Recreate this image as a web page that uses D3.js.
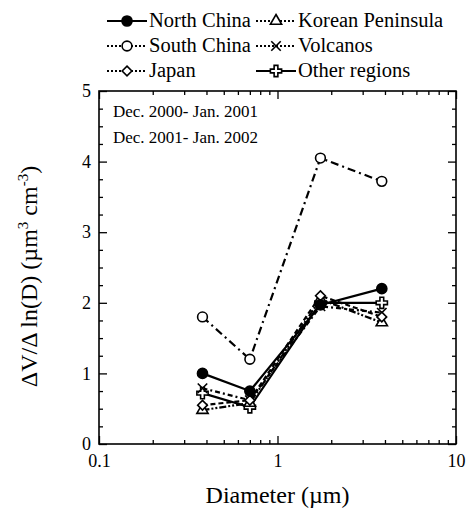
<!DOCTYPE html>
<html>
<head>
<meta charset="utf-8">
<script src="https://cdn.jsdelivr.net/npm/d3@7"></script>
<style>
  body { margin: 0; background: #fff; }
</style>
</head>
<body>
<div id="chart"></div>
<script>
// diameters (µm) of the four size bins
const diameters = [0.38, 0.70, 1.74, 3.84];

const northChina = [1.00, 0.75, 1.97, 2.20];
const southChina = [1.80, 1.20, 4.05, 3.72];
const japan = [0.55, 0.62, 2.10, 1.80];
const korea = [0.48, 0.58, 2.05, 1.72];
const volcanos = [0.79, 0.62, 1.95, 1.86];
const otherRegions = [0.72, 0.52, 2.00, 2.00];

const seriesNames = ["North China", "South China", "Japan", "Korean Peninsula", "Volcanos", "Other regions"];
const xTickLabels = ["0.1", "1", "10"];
const yTicks = [0, 1, 2, 3, 4, 5];
const periods = ["Dec. 2000- Jan. 2001", "Dec. 2001- Jan. 2002"];

const FONT = "Liberation Serif, Times New Roman, serif";

const width = 467, height = 510;
const margin = {top: 91, right: 11, bottom: 66, left: 99};

const svg = d3.select("#chart").append("svg")
  .attr("width", width)
  .attr("height", height)
  .attr("font-family", FONT);

const x = d3.scaleLog().domain([0.1, 10]).range([margin.left, width - margin.right]);
const y = d3.scaleLinear().domain([0, 5]).range([height - margin.bottom, margin.top]);

const x0 = x.range()[0], x1 = x.range()[1];
const y0 = y.range()[0], y1 = y.range()[1];

// ---- axes (ticks inward on all four sides)
const xMajor = [0.1, 1, 10];
const xMinor = [];
[0.1, 1].forEach(d => { for (let k = 2; k <= 9; k++) xMinor.push(d * k); });
const yMinor = d3.range(0, 5.01, 0.25).filter(v => Math.abs(v - Math.round(v)) > 0.01);

function styleAxis(g) {
  g.attr("font-family", FONT);
  g.select(".domain").remove();
  g.selectAll("line").attr("stroke", "#000").attr("stroke-width", 1.3);
  g.selectAll("text").attr("font-size", 18).attr("fill", "#000").attr("font-family", FONT);
}

svg.append("g").attr("transform", `translate(0,${y0})`)
  .call(d3.axisBottom(x).tickValues(xMajor).tickSize(-8).tickFormat((d, i) => xTickLabels[i]).tickPadding(10))
  .call(styleAxis);
svg.append("g").attr("transform", `translate(0,${y0})`)
  .call(d3.axisBottom(x).tickValues(xMinor).tickSize(-4).tickFormat(""))
  .call(styleAxis);
svg.append("g").attr("transform", `translate(0,${y1})`)
  .call(d3.axisTop(x).tickValues(xMajor).tickSize(-8).tickFormat(""))
  .call(styleAxis);
svg.append("g").attr("transform", `translate(0,${y1})`)
  .call(d3.axisTop(x).tickValues(xMinor).tickSize(-4).tickFormat(""))
  .call(styleAxis);

svg.append("g").attr("transform", `translate(${x0},0)`)
  .call(d3.axisLeft(y).tickValues(yTicks).tickSize(-8).tickFormat(d3.format("d")).tickPadding(8))
  .call(styleAxis);
svg.append("g").attr("transform", `translate(${x0},0)`)
  .call(d3.axisLeft(y).tickValues(yMinor).tickSize(-4).tickFormat(""))
  .call(styleAxis);
svg.append("g").attr("transform", `translate(${x1},0)`)
  .call(d3.axisRight(y).tickValues(yTicks).tickSize(-8).tickFormat(""))
  .call(styleAxis);
svg.append("g").attr("transform", `translate(${x1},0)`)
  .call(d3.axisRight(y).tickValues(yMinor).tickSize(-4).tickFormat(""))
  .call(styleAxis);

svg.append("rect")
  .attr("x", x0).attr("y", y1)
  .attr("width", x1 - x0).attr("height", y0 - y1)
  .attr("fill", "none").attr("stroke", "#000").attr("stroke-width", 1.6);

// axis titles
svg.append("text")
  .attr("x", (x0 + x1) / 2).attr("y", 503)
  .attr("text-anchor", "middle").attr("font-size", 24)
  .attr("font-family", FONT)
  .text("Diameter (µm)");

const yTitle = svg.append("text")
  .attr("transform", `translate(37,${(y0 + y1) / 2 + 9}) rotate(-90)`)
  .attr("text-anchor", "middle").attr("font-size", 24)
  .attr("font-family", FONT);
yTitle.append("tspan").text("ΔV/Δ ln(D) (µm");
yTitle.append("tspan").attr("dy", -9).attr("font-size", 15).text("3");
yTitle.append("tspan").attr("dy", 9).text(" cm");
yTitle.append("tspan").attr("dy", -9).attr("font-size", 15).text("-3");
yTitle.append("tspan").attr("dy", 9).text(")");

// period annotation
svg.selectAll(".period").data(periods).join("text")
  .attr("class", "period")
  .attr("x", 113).attr("y", (d, i) => 117 + i * 26)
  .attr("font-size", 17)
  .attr("font-family", FONT)
  .text(d => d);

// ---- series
const series = [
  {name: seriesNames[0], values: northChina, dash: null, symbol: d3.symbolCircle, fill: "#000", size: 80},
  {name: seriesNames[1], values: southChina, dash: "8,4,2,4", symbol: d3.symbolCircle, fill: "#fff", size: 75},
  {name: seriesNames[2], values: japan, dash: "5,3", symbol: d3.symbolDiamond2, fill: "#fff", size: 60},
  {name: seriesNames[3], values: korea, dash: "7,2,2,2,2,2", symbol: d3.symbolTriangle, fill: "#fff", size: 55},
  {name: seriesNames[4], values: volcanos, dash: "5,3,2,3", symbol: d3.symbolTimes, fill: "none", size: 60},
  {name: seriesNames[5], values: otherRegions, dash: null, symbol: d3.symbolCross, fill: "#fff", size: 70}
];

const line = d3.line()
  .x((d, i) => x(diameters[i]))
  .y(d => y(d));

const plot = svg.append("g");

// lines first, markers on top
[...series].reverse().forEach(s => {
  plot.append("path")
    .datum(s.values)
    .attr("d", line)
    .attr("fill", "none")
    .attr("stroke", "#000")
    .attr("stroke-width", 2.2)
    .attr("stroke-dasharray", s.dash);
});

[...series].reverse().forEach(s => {
  plot.selectAll(null).data(s.values).join("path")
    .attr("transform", (d, i) => `translate(${x(diameters[i])},${y(d)})`)
    .attr("d", d3.symbol().type(s.symbol).size(s.size))
    .attr("fill", s.fill)
    .attr("stroke", "#000")
    .attr("stroke-width", 1.6);
});

// ---- legend (two columns, three rows)
const legendPos = [
  {x: 107, y: 27}, {x: 107, y: 52}, {x: 107, y: 77},
  {x: 256, y: 27}, {x: 256, y: 52}, {x: 256, y: 77}
];

const legend = svg.append("g");
series.forEach((s, k) => {
  const p = legendPos[k];
  const g = legend.append("g").attr("transform", `translate(${p.x},${p.y - 6})`);
  g.append("line")
    .attr("x1", 0).attr("x2", 40).attr("y1", 0).attr("y2", 0)
    .attr("stroke", "#000").attr("stroke-width", 2)
    .attr("stroke-dasharray", s.dash ? "2,2" : null);
  g.append("path")
    .attr("transform", "translate(20,0)")
    .attr("d", d3.symbol().type(s.symbol).size(s.size))
    .attr("fill", s.fill)
    .attr("stroke", "#000")
    .attr("stroke-width", 1.6);
  g.append("text")
    .attr("x", 42).attr("y", 6)
    .attr("font-size", 20.5)
    .attr("font-family", FONT)
    .text(s.name);
});
</script>
</body>
</html>
